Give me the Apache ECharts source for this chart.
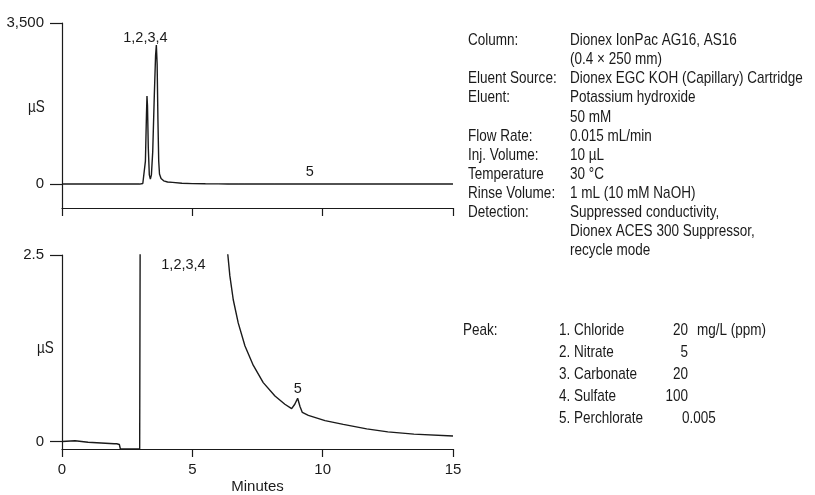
<!DOCTYPE html>
<html>
<head>
<meta charset="utf-8">
<script src="https://cdn.jsdelivr.net/npm/echarts@6/dist/echarts.min.js"></script>
<style>
  html, body { margin: 0; padding: 0; background: #fff; }
  #main { width: 815px; height: 495px; }
</style>
</head>
<body>
<div id="main"></div>
<script>
// chromatogram, minutes vs µS (same run shown at two scales)
const times = [0, 0.5, 1.0, 1.5, 2.0, 2.05, 2.1, 2.2, 2.24, 2.98, 3.02, 3.10, 3.16, 3.20, 3.24, 3.26, 3.28, 3.31, 3.35, 3.39,
  3.43, 3.48, 3.54, 3.59, 3.62, 3.65, 3.68, 3.71, 3.74, 3.80, 3.90, 4.05, 4.24, 4.6, 5.0, 5.5, 6.0, 6.36, 6.44, 6.57,
  6.76, 7.02, 7.34, 7.72, 8.17, 8.55, 8.81, 8.93, 9.04, 9.13, 9.22, 9.45, 10.09, 10.79, 11.69, 12.5, 13.5, 15]
const signal = [0, 0.01, -0.01, -0.02, -0.03, -0.01, -0.03, -0.04, -0.1, -0.1, 6, 12, 40, 500, 1500, 1913, 1700, 800, 200, 109,
  200, 700, 1900, 2800, 3022, 2600, 1400, 500, 220, 120, 70, 45, 36, 18, 10, 5.5, 3.4, 2.51, 2.22, 1.90,
  1.59, 1.28, 1.02, 0.79, 0.61, 0.50, 0.44, 0.50, 0.58, 0.47, 0.39, 0.35, 0.28, 0.23, 0.17, 0.13, 0.10, 0.075]

const xTicks = [0, 5, 10, 15]
const topYTicks = [0, 3500]
const bottomYTicks = [0, 2.5]

// peak labels: [text, minutes, µS]
const topPeakLabels = [['1,2,3,4', 3.2, 3174], ['5', 9.51, 261]]
const bottomPeakLabels = [['1,2,3,4', 4.66, 2.37], ['5', 9.05, 0.71]]

const conditionLabels = ['Column:', '', 'Eluent Source:', 'Eluent:', '', 'Flow Rate:', 'Inj. Volume:', 'Temperature',
  'Rinse Volume:', 'Detection:', '', '']
const conditionValues = ['Dionex IonPac AG16, AS16', '(0.4 \u00d7 250 mm)', 'Dionex EGC KOH (Capillary) Cartridge',
  'Potassium hydroxide', '50 mM', '0.015 mL/min', '10 \u00b5L', '30 \u00b0C', '1 mL (10 mM NaOH)',
  'Suppressed conductivity,', 'Dionex ACES 300 Suppressor,', 'recycle mode']

const peakNames = ['1. Chloride', '2. Nitrate', '3. Carbonate', '4. Sulfate', '5. Perchlorate']
const peakConc = ['20', '5', '20', '100', '0.005']

const FONT = '"Liberation Sans", Arial, sans-serif'
const INK = '#1a1a1a'

const trace = times.map((t, i) => [t, signal[i]])

function xAxisOpt(gridIndex, showLabels) {
  return {
    type: 'value', gridIndex, min: 0, max: 15, interval: 5,
    axisLine: { onZero: false, lineStyle: { color: INK, width: 1.2 } },
    axisTick: { show: true, length: 8, lineStyle: { color: INK, width: 1.2 }, customValues: xTicks },
    axisLabel: { show: showLabels, margin: 13, color: INK, fontFamily: FONT, fontSize: 15, customValues: xTicks },
    splitLine: { show: false },
    name: showLabels ? 'Minutes' : '', nameLocation: 'middle', nameGap: 30,
    nameTextStyle: { color: INK, fontFamily: FONT, fontSize: 15 }
  }
}

function yAxisOpt(gridIndex, min, max, ticks, fmt) {
  return {
    type: 'value', gridIndex, min, max,
    axisLine: { show: true, onZero: false, lineStyle: { color: INK, width: 1.2 } },
    axisTick: { show: true, length: 12, lineStyle: { color: INK, width: 1.2 }, customValues: ticks },
    axisLabel: { margin: 18, color: INK, fontFamily: FONT, fontSize: 15, customValues: ticks, formatter: fmt },
    splitLine: { show: false }
  }
}

function peakMarks(list) {
  return {
    symbol: 'circle', symbolSize: 0, silent: true,
    label: { show: true, position: 'inside', color: INK, fontFamily: FONT, fontSize: 14.5 },
    data: list.map(p => ({ coord: [p[1], p[2]], label: { formatter: p[0] } }))
  }
}

const graphics = []
function addText(text, x, y, align) {
  graphics.push({
    type: 'text', x, y, scaleX: 0.795,
    style: { text, fill: INK, font: '17px ' + FONT, textAlign: align || 'left', textVerticalAlign: 'middle' }
  })
}
addText('\u00b5S', 28, 107)
addText('\u00b5S', 37, 348)
conditionLabels.forEach((s, i) => { if (s) addText(s, 468, 40.5 + i * 19.1) })
conditionValues.forEach((s, i) => addText(s, 570, 40.5 + i * 19.1))
addText('Peak:', 463, 330)
peakNames.forEach((s, i) => addText(s, 559, 330 + i * 22.2))
peakConc.forEach((s, i) => {
  if (s.indexOf('.') >= 0) addText(s, 682, 330 + i * 22.2)
  else addText(s, 688, 330 + i * 22.2, 'right')
})
addText('mg/L (ppm)', 697, 330)

const chart = echarts.init(document.getElementById('main'), null, { renderer: 'canvas' })
chart.setOption({
  backgroundColor: '#fff',
  animation: false,
  grid: [
    { left: 62, top: 23, width: 391, height: 185 },
    { left: 62, top: 255, width: 391, height: 195 }
  ],
  xAxis: [xAxisOpt(0, false), xAxisOpt(1, true)],
  yAxis: [
    yAxisOpt(0, -520, 3500, topYTicks, v => (v === 3500 ? '3,500' : String(v))),
    yAxisOpt(1, -0.1, 2.5, bottomYTicks, v => String(v))
  ],
  series: [
    {
      type: 'line', xAxisIndex: 0, yAxisIndex: 0, data: trace, showSymbol: false, clip: true,
      lineStyle: { color: INK, width: 1.4 }, markPoint: peakMarks(topPeakLabels)
    },
    {
      type: 'line', xAxisIndex: 1, yAxisIndex: 1, data: trace, showSymbol: false, clip: true,
      lineStyle: { color: INK, width: 1.4 }, markPoint: peakMarks(bottomPeakLabels)
    }
  ],
  graphic: graphics
})
window.onresize = function () {
  chart.resize()
}
</script>
</body>
</html>
